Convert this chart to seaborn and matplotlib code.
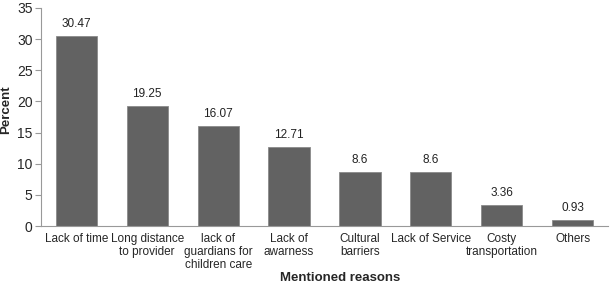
import numpy as np
import pandas as pd
import matplotlib
matplotlib.use("Agg")
import matplotlib.pyplot as plt
import seaborn as sns

# Data
reasons = ["Lack of time", "Long distance\nto provider", "lack of\nguardians for\nchildren care",
           "Lack of\nawarness", "Cultural\nbarriers", "Lack of Service", "Costy\ntransportation", "Others"]
percent = [30.47, 19.25, 16.07, 12.71, 8.6, 8.6, 3.36, 0.93]
value_labels = ["30.47", "19.25", "16.07", "12.71", "8.6", "8.6", "3.36", "0.93"]

df = pd.DataFrame({"reason": reasons, "percent": percent})

sns.set_style("white")
plt.rcParams['font.family'] = ['Liberation Sans', 'DejaVu Sans']

fig = plt.figure(figsize=(6.1, 2.87), dpi=100)
ax = fig.add_axes([0.067, 0.2125, 0.93, 0.76])

sns.barplot(data=df, x="reason", y="percent", color="#626262", width=0.58,
            saturation=1, edgecolor="#8a8a8a", linewidth=0.6, ax=ax)

for i, (v, lab) in enumerate(zip(percent, value_labels)):
    ax.text(i, v + 0.95, lab, ha="center", va="bottom", fontsize=8.5, color="#222222")

ax.set_ylim(0, 35)
ax.set_xlim(-0.5, 7.5)
ax.set_yticks(range(0, 36, 5))
ax.tick_params(axis="y", labelsize=10, length=4, width=0.8, color="#999999", left=True, pad=2)
ax.tick_params(axis="x", labelsize=8.5, length=0, pad=5)
for lab in ax.get_xticklabels():
    lab.set_linespacing(1.1)
sns.despine(ax=ax, top=True, right=True)
ax.spines["left"].set_color("#999999")
ax.spines["bottom"].set_color("#999999")
ax.set_ylabel("Percent", fontsize=9.5, fontweight="bold")
ax.set_xlabel("Mentioned reasons", fontsize=9.5, fontweight="bold")
ax.yaxis.set_label_coords(-0.061, 0.535)
ax.xaxis.set_label_coords(0.528, -0.239)
ax.xaxis.label.set_va("center")
ax.yaxis.label.set_va("center")

fig.savefig("out.png", dpi=100)
